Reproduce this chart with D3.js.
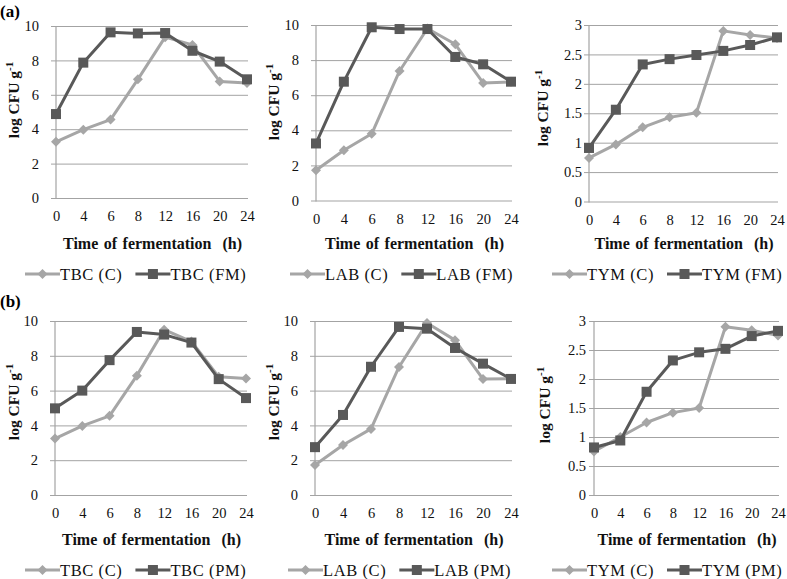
<!DOCTYPE html>
<html><head><meta charset="utf-8">
<script src="https://cdn.jsdelivr.net/npm/d3@7/dist/d3.min.js"></script>
<style>
html,body{margin:0;padding:0;background:#fff;}
svg{display:block;font-family:"Liberation Serif","Times New Roman",serif;}
</style></head><body>
<svg id="chart" width="787" height="579"></svg>
<script>
// ---------- data ----------
const hours = ["0","4","6","8","12","16","20","24"];
const ticksCount = [0,2,4,6,8,10];
const ticksTym = [0,0.5,1,1.5,2,2.5,3];

const tbcC_a  = [3.27, 3.97, 4.56, 6.90, 9.35, 8.90, 6.78, 6.68];
const tbcFM   = [4.88, 7.87, 9.63, 9.57, 9.59, 8.56, 7.93, 6.90];
const labC_a  = [1.72, 2.86, 3.80, 7.38, 9.80, 8.90, 6.70, 6.76];
const labFM   = [3.25, 6.77, 9.87, 9.77, 9.77, 8.18, 7.76, 6.77];
const tymC_a  = [0.74, 0.97, 1.26, 1.43, 1.51, 2.90, 2.83, 2.78];
const tymFM   = [0.91, 1.56, 2.33, 2.42, 2.49, 2.56, 2.66, 2.79];

const tbcC_b  = [3.24, 3.97, 4.55, 6.86, 9.50, 8.82, 6.79, 6.69];
const tbcPM   = [4.98, 6.00, 7.75, 9.37, 9.22, 8.76, 6.66, 5.57];
const labC_b  = [1.72, 2.87, 3.80, 7.36, 9.88, 8.90, 6.66, 6.68];
const labPM   = [2.75, 4.60, 7.37, 9.66, 9.56, 8.45, 7.55, 6.67];
const tymC_b  = [0.75, 1.00, 1.25, 1.42, 1.50, 2.90, 2.84, 2.75];
const tymPM   = [0.82, 0.94, 1.78, 2.32, 2.46, 2.52, 2.74, 2.83];

const seriesNames = [
  ["TBC (C)","TBC (FM)"],["LAB (C)","LAB (FM)"],["TYM (C)","TYM (FM)"],
  ["TBC (C)","TBC (PM)"],["LAB (C)","LAB (PM)"],["TYM (C)","TYM (PM)"]
];
const panelLetters = ["(a)","(b)"];

// ---------- layout ----------
const lightCol = "#a6a6a6", darkCol = "#595959", gridCol = "#a3a3a3";
const panels = [
  {c:tbcC_a, t:tbcFM, ticks:ticksCount, max:10, x0:56,  x1:247, yt:26,  yb:198,   lab:17, ytx:14,  ytc:100, lx:25},
  {c:labC_a, t:labFM, ticks:ticksCount, max:10, x0:316, x1:511, yt:25,  yb:200.5, lab:17, ytx:274, ytc:102, lx:290},
  {c:tymC_a, t:tymFM, ticks:ticksTym,   max:3,  x0:589, x1:777, yt:25,  yb:201.5, lab:7,  ytx:543, ytc:108, lx:552},
  {c:tbcC_b, t:tbcPM, ticks:ticksCount, max:10, x0:55,  x1:246, yt:321, yb:495,   lab:17, ytx:14,  ytc:402, lx:25},
  {c:labC_b, t:labPM, ticks:ticksCount, max:10, x0:315, x1:511, yt:321, yb:495,   lab:17, ytx:274, ytc:402, lx:288},
  {c:tymC_b, t:tymPM, ticks:ticksTym,   max:3,  x0:594, x1:778, yt:321, yb:495,   lab:8,  ytx:545, ytc:405, lx:552}
];

const svg = d3.select("#chart");

// panel letters
svg.append("text").attr("x",0).attr("y",17).attr("font-size",17).attr("font-weight","bold").text(panelLetters[0]);
svg.append("text").attr("x",0).attr("y",307).attr("font-size",17).attr("font-weight","bold").text(panelLetters[1]);

function diamond(s){ return `M0,${-s}L${s},0L0,${s}L${-s},0Z`; }

panels.forEach((p,i)=>{
  const g = svg.append("g");
  const x = d3.scalePoint().domain(hours).range([p.x0,p.x1]);
  const y = d3.scaleLinear().domain([0,p.max]).range([p.yb,p.yt]);

  // gridlines + y labels
  const ya = g.append("g").attr("transform",`translate(${p.x0-5},0)`)
    .call(d3.axisLeft(y).tickValues(p.ticks).tickSize(-(p.x1-p.x0+6)).tickPadding(p.lab-5).tickFormat(d3.format("~g")));
  ya.select(".domain").remove();
  ya.selectAll("line").attr("stroke",gridCol).attr("stroke-width",1);
  ya.selectAll("text").attr("font-size",14.5).attr("fill","#111").attr("font-family","Liberation Serif");

  // y axis line
  g.append("line").attr("x1",p.x0).attr("x2",p.x0).attr("y1",y(p.max)).attr("y2",y(0)+1)
    .attr("stroke",gridCol).attr("stroke-width",1.2);

  // x axis labels
  const xa = g.append("g").attr("transform",`translate(0,${p.yb})`)
    .call(d3.axisBottom(x).tickSize(0).tickPadding(13));
  xa.select(".domain").remove();
  xa.selectAll("text").attr("font-size",14.5).attr("fill","#111").attr("font-family","Liberation Serif");

  const row = i<3 ? 0 : 1;
  const base = row===0 ? 0 : 296;

  // x title
  g.append("text").attr("x",(p.x0+p.x1)/2 + 1).attr("y",base+249)
    .attr("text-anchor","middle").attr("font-size",16).attr("font-weight","bold").attr("fill","#111")
    .attr("word-spacing",1.5)
    .text("Time of fermentation  (h)").style("white-space","pre");

  // y title
  const yt = g.append("text").attr("transform",`translate(${p.ytx+5},${p.ytc}) rotate(-90)`)
    .attr("text-anchor","middle").attr("font-size",15.5).attr("font-weight","bold").attr("fill","#111");
  yt.append("tspan").text("log CFU g");
  yt.append("tspan").attr("dy",-6).attr("font-size",11).text("-1");

  // lines
  const line = d3.line().x((d,j)=>x(hours[j])).y(d=>y(d));
  g.append("path").datum(p.c).attr("d",line).attr("fill","none").attr("stroke",lightCol).attr("stroke-width",3).attr("stroke-linejoin","round");
  g.selectAll(".dm").data(p.c).enter().append("path")
    .attr("transform",(d,j)=>`translate(${x(hours[j])},${y(d)})`).attr("d",diamond(5)).attr("fill",lightCol);
  g.append("path").datum(p.t).attr("d",line).attr("fill","none").attr("stroke",darkCol).attr("stroke-width",3).attr("stroke-linejoin","round");
  g.selectAll(".sq").data(p.t).enter().append("rect")
    .attr("x",(d,j)=>x(hours[j])-5).attr("y",d=>y(d)-5).attr("width",10).attr("height",10).attr("fill",darkCol);

  // legend
  const ly = base + 274;
  const lg = g.append("g");
  let cx = p.lx;
  [[lightCol,"d"],[darkCol,"s"]].forEach((s,k)=>{
    lg.append("line").attr("x1",cx).attr("x2",cx+35).attr("y1",ly).attr("y2",ly).attr("stroke",s[0]).attr("stroke-width",3);
    if(s[1]==="d") lg.append("path").attr("transform",`translate(${cx+17.5},${ly})`).attr("d",diamond(5)).attr("fill",s[0]);
    else lg.append("rect").attr("x",cx+12.5).attr("y",ly-5).attr("width",10).attr("height",10).attr("fill",s[0]);
    const t = lg.append("text").attr("x",cx+35).attr("y",ly+6).attr("font-size",16.5).attr("letter-spacing",0.6).attr("fill","#111").text(seriesNames[i][k]);
    const w = t.node().getComputedTextLength();
    cx = cx + 35 + w + 13;
  });
});
</script>
</body></html>
